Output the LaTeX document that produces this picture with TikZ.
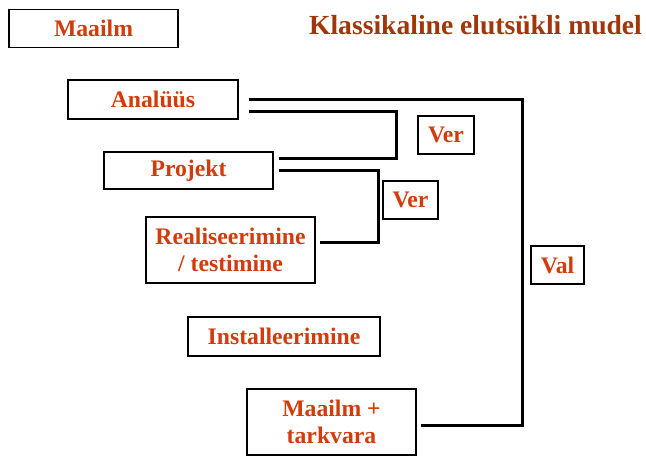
\documentclass[tikz,border=0pt]{standalone}
\usepackage{fontspec}
\setmainfont{Liberation Serif}
\usetikzlibrary{calc}
\definecolor{labelred}{RGB}{210,60,12}
\definecolor{titlebrown}{RGB}{160,55,10}
\tikzset{
  stagebox/.style={draw=black, line width=1.8pt, fill=white, inner sep=0pt,
    minimum width=169pt, minimum height=38pt, align=center,
    text=labelred, font=\fontsize{23.7}{27.5}\selectfont\bfseries},
  tallbox/.style={stagebox, minimum height=66pt},
  tagbox/.style={stagebox, minimum width=55pt},
  conn/.style={draw=black, line width=3pt},
}
\begin{document}
\begin{tikzpicture}[x=1pt, y=-1pt]
  \useasboundingbox (0,0) rectangle (646,456);

  % title
  \node[anchor=base, text=titlebrown, font=\fontsize{27.6}{32}\selectfont\bfseries, inner sep=0pt]
    (title) at (475.5,34) {Klassikaline elutsükli mudel};

  % life-cycle stages
  \node[stagebox] (world) at (93.5,28.5) {Maailm};
  \node[stagebox, minimum width=170pt, minimum height=39pt] (ana) at (153,99.5) {Analüüs};
  \node[stagebox, minimum height=37pt] (proj) at (188.5,170.5) {Projekt};
  \node[tallbox] (real) at (230.5,250) {Realiseerimine\\/ testimine};
  \node[stagebox, minimum width=192pt, minimum height=39pt] (inst) at (284,336.5) {Installeerimine};
  \node[tallbox] (mt) at (331.5,422) {Maailm +\\tarkvara};

  % verification / validation tags
  \node[tagbox, minimum width=56pt] (ver1) at (446,135) {Ver};
  \node[tagbox] (ver2) at (410.5,200) {Ver};
  \node[tagbox, minimum width=53pt] (val) at (557.5,265) {Val};

  % validation: analysis against the delivered system
  \draw[conn] ($(ana.east)+(10,0)$) -- ++(273.5,0) |- ($(mt.east)+(4,3.7)$);
  % verification: analysis against design
  \draw[conn] ($(ana.east)+(10,11.5)$) -- ++(148,0) |- ($(proj.east)+(5,-12.5)$);
  % verification: design against implementation
  \draw[conn] ($(proj.east)+(5,0)$) -- ++(100,0) |- ($(real.east)+(4,-8)$);
\end{tikzpicture}
\end{document}
